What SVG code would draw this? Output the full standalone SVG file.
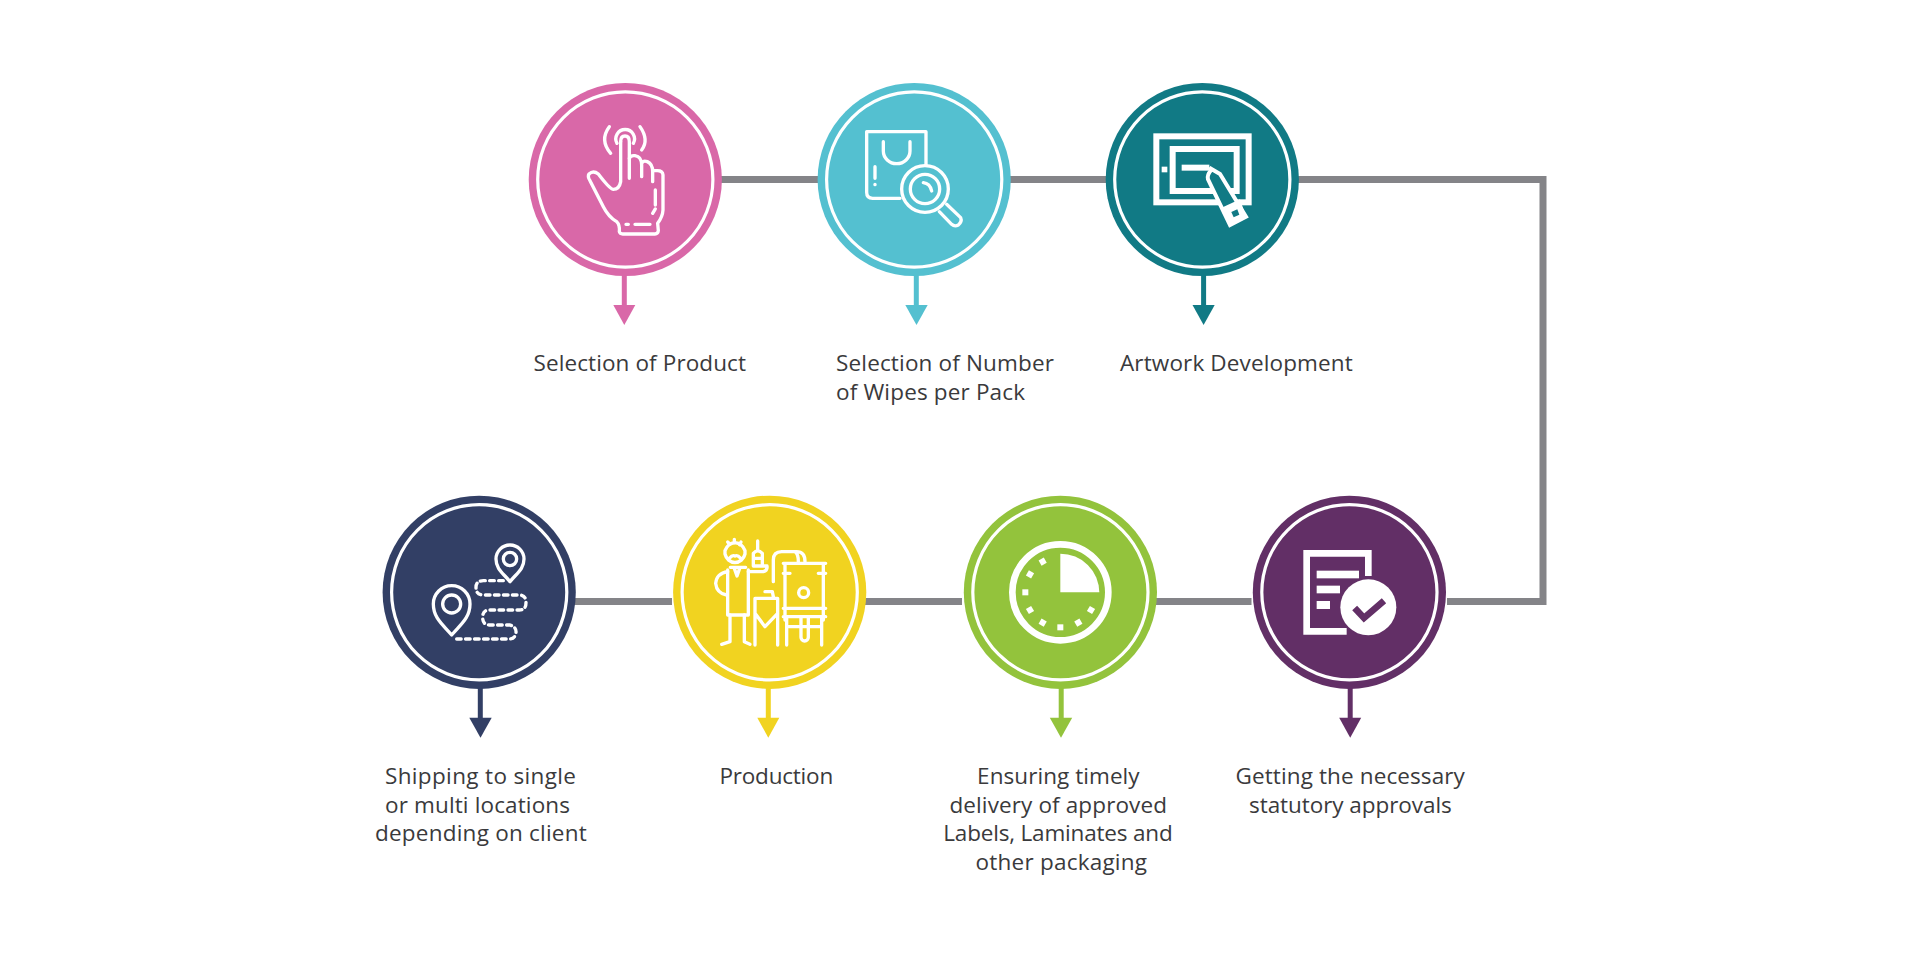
<svg xmlns="http://www.w3.org/2000/svg" width="1920" height="959" viewBox="0 0 1920 959">
<style>
.bg{fill:#fff}
.ring{fill:none;stroke:#fff;stroke-width:3.2}
.link{fill:none;stroke:#848488;stroke-width:7}
.ic{fill:none;stroke:#fff;stroke-width:10;stroke-linecap:round;stroke-linejoin:round}
.sq{fill:none;stroke:#fff;stroke-width:18;stroke-linejoin:miter}
.w{fill:#fff}
.lb{font-family:"Open Sans","Noto Sans","Liberation Sans",sans-serif;font-size:22.5px;fill:#3a3a3c}
.pink{fill:#d968a8}.blue{fill:#54c0d0}.teal{fill:#117a85}.navy{fill:#323f65}.yellow{fill:#f1d320}.green{fill:#93c33c}.purple{fill:#622f66}
.s-pink{stroke:#d968a8}.s-blue{stroke:#54c0d0}.s-teal{stroke:#117a85}.s-navy{stroke:#323f65}.s-yellow{stroke:#f1d320}.s-green{stroke:#93c33c}.s-purple{stroke:#622f66}
.stem{stroke-width:5;fill:none}
</style>
<rect class="bg" width="1920" height="959"/>
<g id="connectors">
<path class="link" d="M720 179.5H819M1009 179.5H1107M1297 179.5H1543V601.5H1447"/>
<path class="link" d="M574 601.5H672M865 601.5H962M1155 601.5H1251.5"/>
<path class="stem s-pink" d="M624.3 274V306"/><polygon class="pink" points="613.3,305 635.3,305 624.3,325"/>
<path class="stem s-blue" d="M916.3 274V306"/><polygon class="blue" points="905.3,305 927.7,305 916.5,325"/>
<path class="stem s-teal" d="M1203.6 274V306"/><polygon class="teal" points="1192.5,305 1214.7,305 1203.6,325"/>
<path class="stem s-navy" d="M480.3 687V719"/><polygon class="navy" points="469.3,717.7 491.7,717.7 480.5,737.7"/>
<path class="stem s-yellow" d="M768.3 687V719"/><polygon class="yellow" points="757.3,717.7 779.3,717.7 768.3,737.7"/>
<path class="stem s-green" d="M1061.2 687V719"/><polygon class="green" points="1049.8,717.7 1072.2,717.7 1061,737.7"/>
<path class="stem s-purple" d="M1350.2 687V719"/><polygon class="purple" points="1339.2,717.7 1361.2,717.7 1350.2,737.7"/>
</g>
<g id="node-product">
<circle class="pink" cx="625.3" cy="179.5" r="96.6"/><circle class="ring" cx="625.3" cy="179.5" r="87.6"/>
<g transform="translate(570 110) scale(.3333)" class="ic">
<path d="M152 95V215Q148 238 130 238Q120 238 85 192Q70 180 57 192Q52 200 60 212L100 290Q115 320 140 335Q150 345 148 365Q150 372 158 372H255Q264 372 265 362L263 340Q278 320 279 300V195Q278 182 262 182H250"/>
<path d="M152 95Q152 78 165 78Q178 78 178 95V205"/>
<path d="M178 145Q182 135 195 137Q215 140 215 165V200"/>
<path d="M215 160Q220 150 232 155Q248 162 248 185V215"/>
<path d="M256 240V285M256 297L248 310M168 343H175M195 343H240"/>
<path d="M141 100A28 28 0 1 1 190 100"/>
<path d="M118 50Q88 90 122 130M210 50Q238 90 215 120"/>
</g>
</g>
<g id="node-wipes">
<circle class="blue" cx="914.2" cy="179.5" r="96.6"/><circle class="ring" cx="914.2" cy="179.5" r="87.6"/>
<g transform="translate(850 115) scale(.3333)" class="ic">
<path d="M150 250H68Q50 250 50 232V50H228V150"/>
<path d="M100 80V108A40 38 0 0 0 180 108V80"/>
<path d="M75 155V190M75 208V209"/>
<circle cx="225" cy="222" r="70"/><circle cx="225" cy="222" r="44"/>
<path d="M220 203Q240 205 245 228"/>
<path d="M290 268L332 308Q337 320 325 330Q314 336 305 328L268 290"/>
</g>
</g>
<g id="node-artwork">
<circle class="teal" cx="1202.3" cy="179.5" r="96.6"/><circle class="ring" cx="1202.3" cy="179.5" r="87.6"/>
<g transform="translate(1140 120) scale(.3333)">
<rect class="sq" x="49" y="49" width="277" height="198"/>
<rect class="sq" x="98" y="87" width="192" height="126"/>
<rect class="w" x="65" y="140" width="17" height="17"/>
<path class="sq" d="M125 143H208"/>
<path d="M208 143L240 162L318 290L270 315L204 178Q200 165 214 150Z" class="teal" stroke="#fff" stroke-width="12" stroke-linejoin="miter"/>
<polygon class="w" points="248,262 300,238 318,290 270,315"/>
<polygon class="teal" points="274,276 292,268 298,284 281,292"/>
</g>
</g>
<g id="node-shipping">
<circle class="navy" cx="479.2" cy="592.3" r="96.6"/><circle class="ring" cx="479.2" cy="592.3" r="87.6"/>
<g transform="translate(420 530) scale(.3333)" class="ic">
<path d="M95 315C70 285 40 265 40 222A55 55 0 0 1 150 222C150 265 120 285 95 315Z"/>
<circle cx="95" cy="222" r="27"/>
<path d="M270 155C250 130 228 118 228 87A42 42 0 0 1 312 87C312 118 290 130 270 155Z"/>
<circle cx="270" cy="87" r="20"/>
<path stroke-dasharray="14 13" d="M250 152H190Q168 152 168 172Q168 195 190 195H298Q318 195 318 218Q318 240 298 240H208Q188 240 188 262Q188 285 208 285H268Q290 290 288 308Q285 327 268 327H110"/>
</g>
</g>
<g id="node-production">
<circle class="yellow" cx="769.7" cy="592.3" r="96.6"/><circle class="ring" cx="769.7" cy="592.3" r="87.6"/>
<g transform="translate(705 530) scale(.3333)" class="ic">
<path d="M60 72A31 34 0 0 0 120 72V62Q112 40 90 38Q68 40 60 62Z"/>
<path d="M68 36L74 42M88 28V38M108 36L104 44"/>
<path d="M74 84Q82 74 90 78Q98 74 106 84"/>
<path d="M68 120V255H130V120M76 112H122M88 115L96 138L104 115"/>
<path d="M68 125Q35 130 32 160Q35 190 65 195"/>
<path d="M130 125H175Q188 122 186 108H145V70Q158 55 172 70V108"/>
<path d="M158 33V60M147 85H170"/>
<path d="M75 255V335L50 343M118 255V335L135 343"/>
<path d="M205 155V90Q205 65 230 65H275Q300 65 300 95M270 65Q280 72 280 95"/>
<path d="M235 100H362M240 100V270M355 100V270M235 130H255M340 130H362M235 235H362M235 260H362"/>
<circle cx="296" cy="188" r="15"/>
<path d="M245 260V345M350 260V345M245 290H350M288 262V322A11 11 0 0 0 310 322V262"/>
<path d="M150 345V205H218V345M150 250L180 290L218 250M180 185H202L206 205"/>
</g>
</g>
<g id="node-delivery">
<circle class="green" cx="1060.4" cy="592.3" r="96.6"/><circle class="ring" cx="1060.4" cy="592.3" r="87.6"/>
<g transform="translate(1000 530) scale(.3333)">
<circle cx="181" cy="187" r="144" fill="none" stroke="#fff" stroke-width="20"/>
<path class="w" d="M181 187V71A117 117 0 0 1 298 187Z"/>
<g class="w">
<rect x="119" y="86" width="18" height="18" transform="rotate(-30 128 95)"/>
<rect x="81" y="124" width="18" height="18" transform="rotate(-60 90 133)"/>
<rect x="67" y="178" width="18" height="18"/>
<rect x="81" y="231" width="18" height="18" transform="rotate(60 90 240)"/>
<rect x="119" y="269" width="18" height="18" transform="rotate(30 128 278)"/>
<rect x="172" y="283" width="18" height="18"/>
<rect x="226" y="269" width="18" height="18" transform="rotate(-30 235 278)"/>
<rect x="264" y="231" width="18" height="18" transform="rotate(-60 273 240)"/>
</g>
</g>
</g>
<g id="node-approvals">
<circle class="purple" cx="1349.4" cy="592.3" r="96.6"/><circle class="ring" cx="1349.4" cy="592.3" r="87.6"/>
<g transform="translate(1290 530) scale(.3333)">
<path d="M235 138V70H50V304H170" fill="none" stroke="#fff" stroke-width="20"/>
<rect class="w" x="80" y="122" width="127" height="23"/>
<rect class="w" x="80" y="167" width="70" height="23"/>
<rect class="w" x="80" y="213" width="40" height="24"/>
<circle class="w" cx="235" cy="232" r="84"/>
<path d="M194 234L222 264L282 212" fill="none" stroke="#622f66" stroke-width="20"/>
</g>
</g>
<g id="labels">
<text class="lb" x="533.5" y="371" textLength="212.5">Selection of Product</text>
<text class="lb" x="836" y="371" textLength="218">Selection of Number</text>
<text class="lb" x="836" y="399.7" textLength="189">of Wipes per Pack</text>
<text class="lb" x="1120" y="371" textLength="232.8">Artwork Development</text>
<text class="lb" x="385" y="784" textLength="191">Shipping to single</text>
<text class="lb" x="385" y="812.6" textLength="185">or multi locations</text>
<text class="lb" x="375" y="841.3" textLength="211.7">depending on client</text>
<text class="lb" x="719.5" y="784" textLength="113.7">Production</text>
<text class="lb" x="977.1" y="784" textLength="162.5">Ensuring timely</text>
<text class="lb" x="949.4" y="812.6" textLength="217.6">delivery of approved</text>
<text class="lb" x="943.3" y="841.3" textLength="229.4">Labels, Laminates and</text>
<text class="lb" x="975.5" y="870" textLength="171.5">other packaging</text>
<text class="lb" x="1235.5" y="784" textLength="229.4">Getting the necessary</text>
<text class="lb" x="1249" y="812.6" textLength="202.8">statutory approvals</text>
</g>
</svg>
